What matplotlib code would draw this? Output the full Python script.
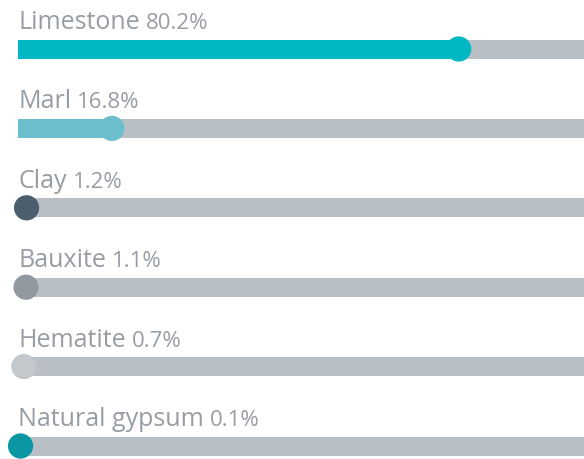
import matplotlib
matplotlib.use("Agg")
import matplotlib.pyplot as plt

names = ["Limestone", "Marl", "Clay", "Bauxite", "Hematite", "Natural gypsum"]
shares = [80.2, 16.8, 1.2, 1.1, 0.7, 0.1]
colors = ["#00b8c4", "#6bbfcc", "#4a5e6d", "#9399a1", "#c3c8cc", "#0a97a3"]

track_color = "#b9c0c5"
text_color = "#979da4"

fig = plt.figure(figsize=(5.84, 4.60), dpi=100)
ax = fig.add_axes([0, 0, 1, 1])
# 0% sits at 20 px, 5.47 px per percent; y in pixels from the top
px0, scale = 20, 5.47
ax.set_xlim(-px0 / scale, (584 - px0) / scale)
ax.set_ylim(460, 0)
ax.axis("off")

row_y = [50 + i * 79.4 for i in range(len(names))]
bar_left = -2 / scale  # track starts at 18 px

for y, name, val, col in zip(row_y, names, shares, colors):
    ax.barh(y, 120, left=bar_left, height=19, color=track_color, zorder=1)
    ax.barh(y, val - bar_left, left=bar_left, height=19, color=col, zorder=2)
    ax.scatter([val], [y], s=330, color=col, edgecolors="none", zorder=3)

fig.canvas.draw()
renderer = fig.canvas.get_renderer()
inv = ax.transData.inverted()
for y, name, val in zip(row_y, names, shares):
    t = ax.text(bar_left, y - 21, name, fontsize=18, color=text_color,
                family="Open Sans", va="baseline", ha="left")
    bb = t.get_window_extent(renderer)
    x_end = inv.transform((bb.x1 + 6, bb.y0))[0]
    ax.text(x_end, y - 21, f"{val}%", fontsize=16, color=text_color,
            family="Open Sans", va="baseline", ha="left")

fig.savefig("out.png", dpi=100)
plt.close(fig)
